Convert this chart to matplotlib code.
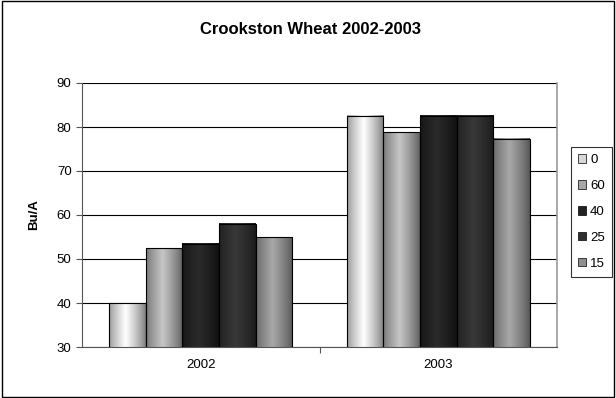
import numpy as np
import matplotlib.pyplot as plt
from matplotlib.colors import LinearSegmentedColormap
from matplotlib.patches import Rectangle

plt.rcParams['font.family'] = ['Liberation Sans', 'DejaVu Sans']

years = ['2002', '2003']
series = ['0', '60', '40', '25', '15']
yields = {
    '0':  [40.0, 82.5],
    '60': [52.4, 78.8],
    '40': [53.5, 82.5],
    '25': [58.0, 82.5],
    '15': [54.9, 77.3],
}
# edge / highlight shades for the cylinder-like bars
shades = {
    '0':  ('#7a7a7a', '#ffffff'),
    '60': ('#5e5e5e', '#c6c6c6'),
    '40': ('#101010', '#2a2a2a'),
    '25': ('#1a1a1a', '#383838'),
    '15': ('#555555', '#a8a8a8'),
}

fig = plt.figure(figsize=(6.16, 3.98), dpi=100)
fig.patches.append(Rectangle((0.003, 0.003), 0.994, 0.994, transform=fig.transFigure,
                             fill=False, edgecolor='black', linewidth=1.0))
ax = fig.add_axes([82 / 616, 1 - 347 / 398, 475 / 616, 264 / 398])

n = len(series)
width = 0.154
x = np.arange(len(years))
prof = np.linspace(0, 1, 64)
# highlight slightly left of centre
grad = 1 - np.abs(prof - 0.45) / 0.55
grad = np.clip(grad, 0, 1) ** 0.8

for i, s in enumerate(series):
    pos = x + (i - (n - 1) / 2) * width
    bars = ax.bar(pos, yields[s], width, bottom=0, color='none',
                  edgecolor='black', linewidth=0.8, zorder=3)
    cmap = LinearSegmentedColormap.from_list('c' + s, list(shades[s]))
    for b in bars:
        x0, w, h = b.get_x(), b.get_width(), b.get_height()
        ax.imshow(grad[np.newaxis, :], cmap=cmap, vmin=0, vmax=1, aspect='auto',
                  extent=(x0, x0 + w, 30, h), zorder=2, interpolation='bilinear')
    # legend proxy
    ax.bar([0], [0], color=cmap(0.7), edgecolor='black', linewidth=0.5, label=s)

ax.set_xlim(-0.5, 1.5)
ax.set_ylim(30, 90)
ax.set_yticks(np.arange(30, 91, 10))
ax.yaxis.grid(True, color='black', linewidth=0.8, zorder=0)
ax.set_axisbelow(True)
ax.set_xticks([0.5])
ax.set_xticklabels([])
ax.set_xticks(x, minor=True)
ax.set_xticklabels(years, minor=True)
ax.tick_params(axis='x', which='minor', length=0, pad=9, labelsize=9.5)
ax.tick_params(axis='x', which='major', length=4, color='#555555')
ax.tick_params(axis='y', length=4, labelsize=9.5, color='#555555')
ax.spines['top'].set_visible(False)
ax.spines['right'].set_color('#999999')
ax.spines['right'].set_linewidth(1.2)
ax.spines['left'].set_color('#555555')
ax.spines['bottom'].set_color('#555555')
ax.set_ylabel('Bu/A', fontsize=9.5, fontweight='bold', labelpad=12)

fig.text(310 / 616, 1 - 29 / 398, 'Crookston Wheat 2002-2003', ha='center', va='center',
         fontsize=12, fontweight='bold')

leg = fig.legend(loc='upper left', bbox_to_anchor=(571 / 616, 1 - 147 / 398),
                 frameon=True, fancybox=False, edgecolor='black', fontsize=9.5,
                 handlelength=0.6, handleheight=0.6, handletextpad=0.3,
                 labelspacing=1.05, borderpad=0.55, borderaxespad=0)
leg.get_frame().set_linewidth(0.8)

fig.savefig('out.png', dpi=100)
